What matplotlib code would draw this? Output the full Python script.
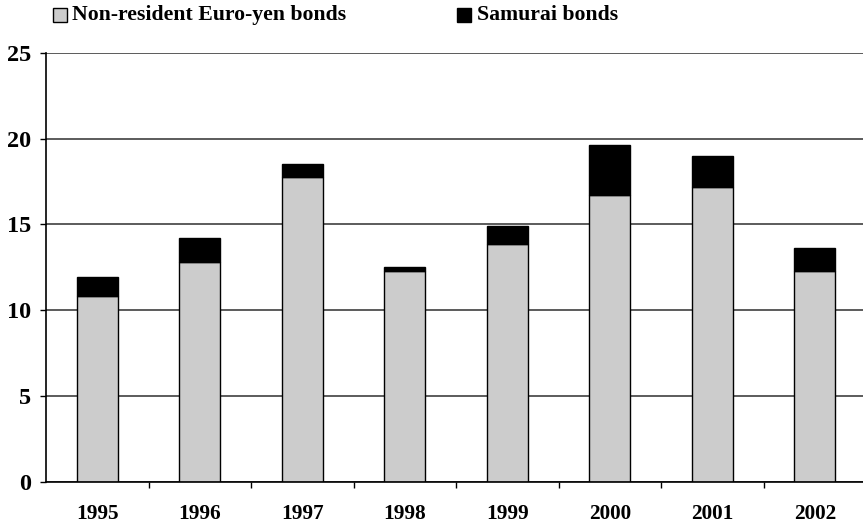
import matplotlib
matplotlib.use("Agg")
import matplotlib.pyplot as plt
from matplotlib.patches import Rectangle
import numpy as np

years = ["1995", "1996", "1997", "1998", "1999", "2000", "2001", "2002"]
euro_yen = [10.85, 12.83, 17.76, 12.29, 13.88, 16.73, 17.2, 12.29]
samurai = [1.1, 1.38, 0.76, 0.23, 1.03, 2.9, 1.77, 1.36]
series_names = ["Non-resident Euro-yen bonds", "Samurai bonds"]
yticks = [0, 5, 10, 15, 20, 25]

plt.rcParams['font.family'] = ['Liberation Serif', 'DejaVu Serif']
plt.rcParams['font.weight'] = 'bold'

W, H = 863, 528
fig = plt.figure(figsize=(W / 100, H / 100), dpi=100)
ax = fig.add_axes([46 / W, 1 - 482 / H, (866 - 46) / W, (482 - 52.7) / H])

x = np.arange(len(years))
ax.bar(x, euro_yen, width=0.4, color='#cccccc', edgecolor='black', linewidth=1.0, zorder=3)
ax.bar(x, samurai, width=0.4, bottom=euro_yen, color='black', edgecolor='black', linewidth=1.0, zorder=3)

ax.set_xlim(-0.5, len(years) - 0.5)
ax.set_ylim(0, 25)
ax.set_yticks(yticks)
ax.set_yticklabels([str(v) for v in yticks], fontsize=17.5, fontweight='bold')
ax.set_xticks(x)
ax.set_xticklabels(years, fontsize=15.3, fontweight='bold')
ax.set_xticks(np.arange(0.5, len(years) - 0.5, 1.0), minor=True)
ax.tick_params(axis='x', which='major', length=0, pad=16)
ax.tick_params(axis='x', which='minor', length=4.5, width=1.0, direction='out', color='black')
ax.tick_params(axis='y', length=4.5, width=1.0, direction='out', pad=6, color='black')

ax.yaxis.grid(True, color='#404040', linewidth=1.2, zorder=0)
ax.set_axisbelow(True)
for s in ['top', 'right']:
    ax.spines[s].set_visible(False)
for s in ['left', 'bottom']:
    ax.spines[s].set_color('black')
    ax.spines[s].set_linewidth(1.2)
    ax.spines[s].set_zorder(4)

# legend
sq = 14
fig.patches.append(Rectangle((53 / W, 1 - 22 / H), sq / W, sq / H, transform=fig.transFigure,
                             facecolor='#cccccc', edgecolor='black', linewidth=1.0))
fig.text(72 / W, 1 - 15 / H, series_names[0], fontsize=15.7, fontweight='bold', va='center', ha='left')
fig.patches.append(Rectangle((457 / W, 1 - 22 / H), sq / W, sq / H, transform=fig.transFigure,
                             facecolor='black', edgecolor='black', linewidth=1.0))
fig.text(477 / W, 1 - 15 / H, series_names[1], fontsize=15.7, fontweight='bold', va='center', ha='left')

fig.savefig("out.png", dpi=100)
